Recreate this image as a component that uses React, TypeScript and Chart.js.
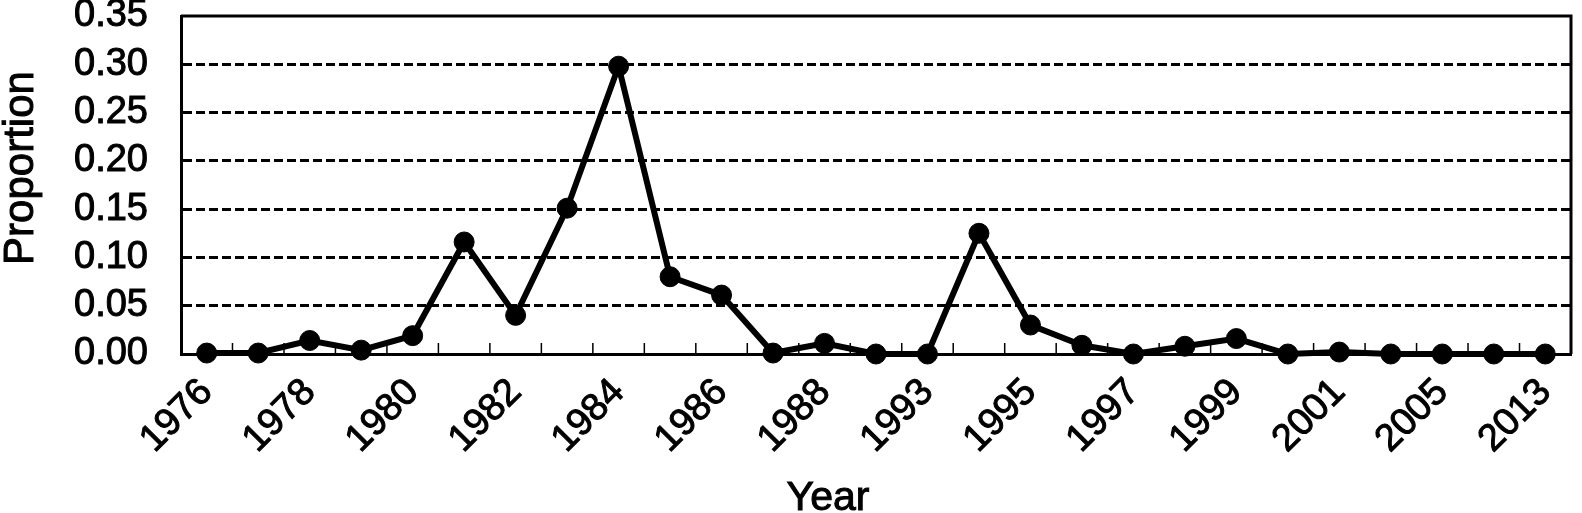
import React, { useEffect, useRef } from "react";
import { Chart, registerables } from "chart.js";

Chart.register(...registerables);

const years: string[] = [
  "1976", "1977", "1978", "1979", "1980", "1981", "1982", "1983", "1984",
  "1985", "1986", "1987", "1988", "1990", "1993", "1994", "1995", "1996",
  "1997", "1998", "1999", "2000", "2001", "2003", "2005", "2010", "2013",
];

const proportion: number[] = [
  0.001, 0.001, 0.014, 0.004, 0.019, 0.116, 0.040, 0.151, 0.298,
  0.080, 0.061, 0.001, 0.011, 0.0, 0.0, 0.125, 0.030, 0.009,
  0.0, 0.008, 0.016, 0.0, 0.002, 0.0, 0.0, 0.0, 0.0,
];

const yTickValues: number[] = [0, 0.05, 0.1, 0.15, 0.2, 0.25, 0.3, 0.35];

const FONT = "'Liberation Sans', Arial, Helvetica, sans-serif";

const zeroPadding = (s: any) => {
  s.paddingTop = 0;
  s.paddingBottom = 0;
  s.paddingLeft = 0;
  s.paddingRight = 0;
};

const framePlugin = {
  id: "frameAndTicks",
  beforeDatasetsDraw(chart: any) {
    const { ctx, chartArea } = chart;
    const x = chart.scales.x;
    ctx.save();
    ctx.strokeStyle = "#000";
    ctx.lineWidth = 3;
    ctx.beginPath();
    ctx.moveTo(chartArea.left, chartArea.top);
    ctx.lineTo(chartArea.right, chartArea.top);
    ctx.lineTo(chartArea.right, chartArea.bottom);
    ctx.stroke();
    // inner tick marks at category boundaries
    ctx.lineWidth = 1.5;
    ctx.beginPath();
    for (let i = 1; i < years.length; i++) {
      const bx = (x.getPixelForValue(i - 1) + x.getPixelForValue(i)) / 2;
      ctx.moveTo(bx, chartArea.bottom);
      ctx.lineTo(bx, chartArea.bottom - 11);
    }
    ctx.stroke();
    ctx.restore();
  },
  afterDraw(chart: any) {
    const { ctx } = chart;
    ctx.save();
    ctx.fillStyle = "#000";
    ctx.strokeStyle = "#000";
    ctx.lineWidth = 1;
    ctx.font = `42px ${FONT}`;
    ctx.textAlign = "center";
    ctx.textBaseline = "alphabetic";
    ctx.translate(33, 168);
    ctx.rotate(-Math.PI / 2);
    ctx.fillText("Proportion", 0, 0);
    ctx.strokeText("Proportion", 0, 0);
    ctx.restore();
    ctx.save();
    ctx.fillStyle = "#000";
    ctx.strokeStyle = "#000";
    ctx.lineWidth = 1;
    ctx.font = `41px ${FONT}`;
    ctx.textAlign = "center";
    ctx.textBaseline = "alphabetic";
    ctx.fillText("Year", 828, 510);
    ctx.strokeText("Year", 828, 510);
    ctx.restore();
  },
};

export default function App() {
  const ref = useRef<HTMLCanvasElement | null>(null);
  useEffect(() => {
    document.body.style.margin = "0";
    if (!ref.current) return;
    const chart = new Chart(ref.current, {
      type: "line",
      data: {
        labels: years,
        datasets: [
          {
            data: proportion,
            borderColor: "#000",
            backgroundColor: "#000",
            borderWidth: 6,
            pointRadius: 10,
            pointBorderWidth: 1,
            pointBackgroundColor: "#000",
            pointBorderColor: "#000",
            tension: 0,
            clip: false,
          },
        ],
      },
      options: {
        animation: false,
        responsive: false,
        devicePixelRatio: 1,
        layout: { padding: { top: 16, right: 5, left: 0, bottom: 0 } },
        plugins: { legend: { display: false }, tooltip: { enabled: false } },
        scales: {
          x: {
            type: "category",
            offset: true,
            grid: { display: false, drawTicks: false },
            border: { display: true, color: "#000", width: 3 },
            ticks: {
              autoSkip: false,
              minRotation: 45,
              maxRotation: 45,
              padding: 16,
              color: "#000",
              textStrokeColor: "#000",
              textStrokeWidth: 1,
              font: { family: FONT, size: 38 },
              callback: (_v: any, i: number) => (i % 2 === 0 ? years[i] : ""),
            },
            afterFit: (s: any) => {
              s.height = 159;
              zeroPadding(s);
            },
          },
          y: {
            min: 0,
            max: 0.35,
            afterBuildTicks: (s: any) => {
              s.ticks = yTickValues.map((v) => ({ value: v }));
            },
            grid: {
              drawTicks: false,
              lineWidth: 3,
              color: (c: any) => {
                const v = c.tick ? c.tick.value : 0;
                return Math.abs(v) < 1e-6 || Math.abs(v - 0.35) < 1e-6 ? "rgba(0,0,0,0)" : "#000";
              },
            },
            border: { display: true, color: "#000", width: 3, dash: [9, 4] },
            ticks: {
              autoSkip: false,
              padding: 33,
              color: "#000",
              textStrokeColor: "#000",
              textStrokeWidth: 1,
              font: { family: FONT, size: 38 },
              callback: (v: any) => Number(v).toFixed(2),
            },
            afterFit: (s: any) => {
              s.width = 181;
              zeroPadding(s);
            },
          },
        },
      },
      plugins: [framePlugin],
    });
    return () => chart.destroy();
  }, []);
  return <canvas ref={ref} width={1582} height={513} style={{ display: "block" }} />;
}
